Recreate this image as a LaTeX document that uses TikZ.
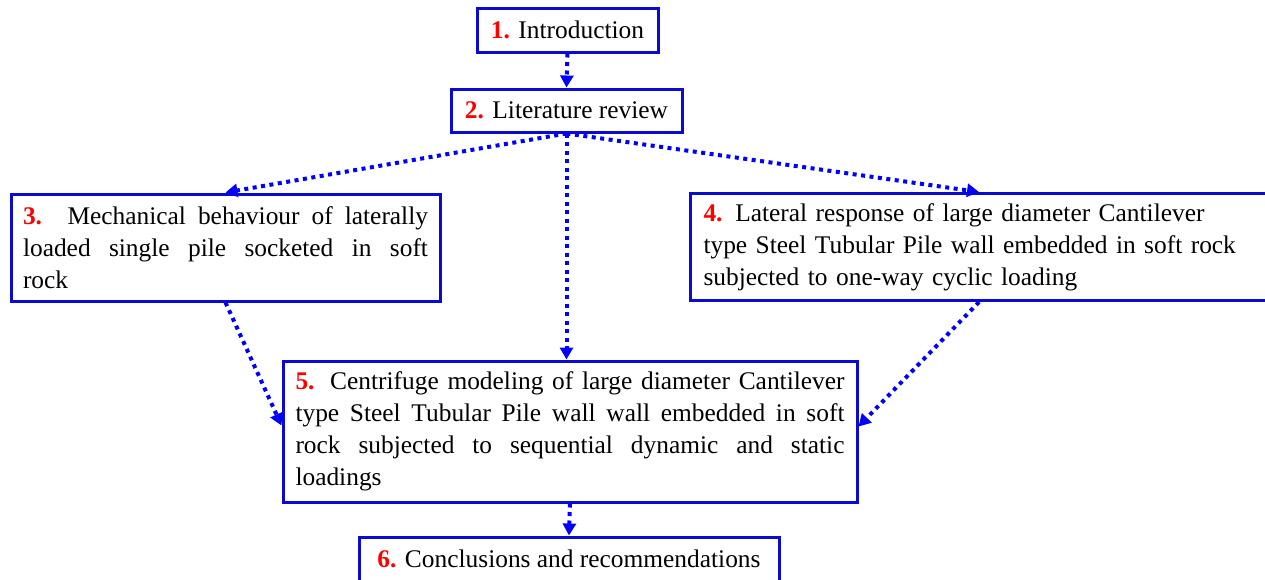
\documentclass[tikz,border=0pt]{standalone}
\usepackage{fontspec}
\setmainfont{Liberation Serif}
\usetikzlibrary{arrows.meta}
\definecolor{boxblue}{RGB}{10,10,210}
\definecolor{arrblue}{RGB}{0,0,255}
\newcommand{\num}[1]{\textcolor{red}{\textbf{#1}}}
\begin{document}
\begin{tikzpicture}[x=1pt,y=-1pt,
  box/.style={draw=boxblue,line width=3pt,rectangle,inner xsep=10pt,inner ysep=2pt,
    font=\fontsize{25.4}{32}\selectfont},
  link/.style={draw=arrblue,line width=4pt,dash pattern=on 4pt off 4.5pt,
    -{Triangle[length=12pt,width=13pt]}}]
\useasboundingbox (0,0) rectangle (1265,579);
\node[box,minimum width=181pt,minimum height=44pt] (b1) at (567.5,30) {\num{1.} Introduction};
\node[box,minimum width=231pt,minimum height=43pt] (b2) at (566.5,110.5) {\num{2.} Literature review};
\node[box,minimum width=429pt,minimum height=107pt,text width=405pt,align=justify] (b3) at (225.5,247.5)
  {\num{3.} Mechanical behaviour of laterally\linebreak loaded single pile socketed in soft\linebreak rock};
\node[box,minimum width=578pt,minimum height=107pt,text width=551pt,align=left,inner xsep=13pt] (b4) at (979,247)
  {\num{4.} Lateral response of large diameter Cantilever\\ type Steel Tubular Pile wall embedded in soft rock\\ subjected to one-way cyclic loading};
\node[box,minimum width=574pt,minimum height=141pt,text width=549pt,align=justify,inner xsep=11pt] (b5) at (570,431.5)
  {\num{5.} Centrifuge modeling of large diameter Cantilever\linebreak type Steel Tubular Pile wall wall embedded in soft\linebreak rock subjected to sequential dynamic and static\linebreak loadings};
\node[box,minimum width=420pt,minimum height=44pt] (b6) at (569,559) {\num{6.} Conclusions and recommendations};
\draw[link] (b1.south) -- (b2.north);
\draw[link] (b2.south) -- (b3.north);
\draw[link] (b2.south) -- (b4.north);
\draw[link] (b2.south) -- (b2.south |- b5.north);
\draw[link] (b3.south) -- ([yshift=6pt]b5.west);
\draw[link] (b4.south) -- ([yshift=5pt]b5.east);
\draw[link] (b5.south) -- (b6.north);
\end{tikzpicture}
\end{document}
